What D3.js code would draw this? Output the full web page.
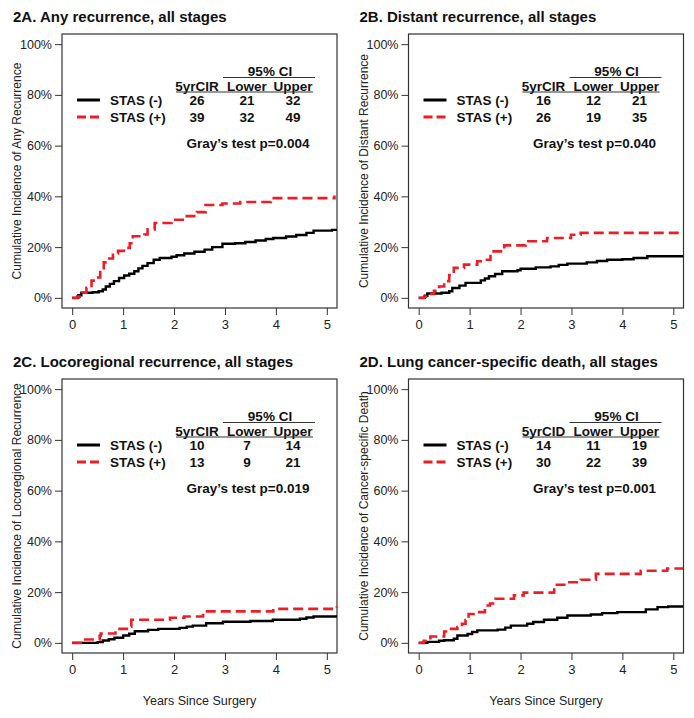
<!DOCTYPE html>
<html><head><meta charset="utf-8">
<script src="https://cdn.jsdelivr.net/npm/d3@7"></script>
<style>body{margin:0;background:#fff}svg{display:block}text{font-family:"Liberation Sans",Arial,sans-serif}</style>
</head><body><svg id="c" width="694" height="718"></svg>
<script>
// ---------- DATA ----------
const panelTitles = ["2A. Any recurrence, all stages","2B. Distant recurrence, all stages","2C. Locoregional recurrence, all stages","2D. Lung cancer-specific death, all stages"];
const yAxisTitles = ["Cumulative Incidence of Any Recurrence","Cumulative Incidence of Distant Recurrence","Cumulative Incidence of Locoregional Recurrence","Cumulative Incidence of Cancer-specific Death"];
const xAxisTitle = "Years Since Surgery";
const xTicks = [0,1,2,3,4,5];
const yTicks = [0,0.2,0.4,0.6,0.8,1.0];
const seriesNames = ["STAS (-)","STAS (+)"];
const estHeaders = ["5yrCIR","5yrCIR","5yrCIR","5yrCID"];
const tableA = [[26,21,32],[39,32,49]];
const tableB = [[16,12,21],[26,19,35]];
const tableC = [[10,7,14],[13,9,21]];
const tableD = [[14,11,19],[30,22,39]];
const pValues = ["0.004","0.040","0.019","0.001"];

// step curves: [years, cumulative incidence]
const anyNeg = [[0,0],[0.12,0.01],[0.18,0.02],[0.4,0.022],[0.52,0.026],[0.6,0.033],[0.66,0.045],[0.74,0.055],[0.82,0.066],[0.92,0.078],[1.02,0.088],[1.12,0.095],[1.22,0.105],[1.3,0.116],[1.38,0.126],[1.48,0.137],[1.6,0.15],[1.72,0.157],[1.95,0.162],[2.05,0.168],[2.2,0.175],[2.4,0.182],[2.6,0.19],[2.75,0.2],[2.95,0.213],[3.2,0.215],[3.4,0.22],[3.6,0.226],[3.8,0.232],[3.95,0.236],[4.2,0.242],[4.4,0.248],[4.6,0.256],[4.74,0.265],[5.1,0.268],[5.2,0.272]];
const anyPos = [[0,0],[0.1,0.005],[0.2,0.02],[0.28,0.04],[0.38,0.068],[0.48,0.08],[0.55,0.11],[0.62,0.14],[0.7,0.155],[0.8,0.175],[0.9,0.185],[1.05,0.197],[1.13,0.215],[1.19,0.243],[1.42,0.25],[1.48,0.27],[1.62,0.295],[1.95,0.308],[2.2,0.322],[2.45,0.338],[2.62,0.366],[2.95,0.372],[3.3,0.378],[3.9,0.393],[5.15,0.403]];
const distNeg = [[0,0],[0.12,0.008],[0.17,0.017],[0.45,0.02],[0.6,0.026],[0.66,0.039],[0.8,0.048],[0.92,0.059],[1.22,0.069],[1.3,0.076],[1.38,0.085],[1.5,0.094],[1.64,0.105],[1.94,0.109],[2.0,0.115],[2.3,0.12],[2.59,0.124],[2.75,0.13],[2.92,0.135],[3.3,0.14],[3.5,0.145],[3.7,0.15],[4.0,0.152],[4.22,0.157],[4.49,0.164],[5.2,0.164]];
const distPos = [[0,0],[0.11,0.005],[0.2,0.015],[0.3,0.028],[0.4,0.045],[0.5,0.066],[0.6,0.09],[0.69,0.118],[0.89,0.131],[1.15,0.144],[1.3,0.15],[1.41,0.183],[1.68,0.207],[2.1,0.223],[2.52,0.236],[2.99,0.249],[3.18,0.256],[5.2,0.256]];
const locoNeg = [[0,0],[0.5,0.003],[0.6,0.009],[0.72,0.014],[0.83,0.02],[1.0,0.029],[1.12,0.036],[1.23,0.046],[1.49,0.051],[1.69,0.055],[2.11,0.059],[2.25,0.064],[2.37,0.068],[2.63,0.077],[2.96,0.083],[3.5,0.086],[3.94,0.091],[4.47,0.095],[4.6,0.1],[4.74,0.104],[5.2,0.108]];
const locoPos = [[0,0],[0.22,0.013],[0.54,0.028],[0.56,0.037],[0.85,0.055],[1.13,0.064],[1.16,0.091],[1.92,0.099],[2.2,0.104],[2.57,0.124],[3.95,0.134],[5.2,0.145]];
const lcsdNeg = [[0,0],[0.17,0.004],[0.4,0.008],[0.5,0.01],[0.69,0.016],[0.76,0.029],[0.96,0.035],[1.05,0.043],[1.15,0.049],[1.55,0.052],[1.7,0.06],[1.81,0.068],[2.13,0.075],[2.25,0.082],[2.46,0.091],[2.72,0.099],[2.92,0.108],[3.38,0.112],[3.6,0.117],[3.9,0.121],[4.46,0.132],[4.69,0.141],[4.9,0.143],[5.2,0.143]];
const lcsdPos = [[0,0],[0.1,0.008],[0.23,0.025],[0.5,0.045],[0.6,0.055],[0.76,0.062],[0.85,0.075],[0.92,0.09],[0.98,0.114],[1.12,0.121],[1.3,0.147],[1.4,0.155],[1.51,0.174],[1.87,0.187],[2.06,0.198],[2.66,0.229],[2.92,0.239],[3.18,0.249],[3.48,0.272],[4.36,0.284],[4.88,0.293],[5.2,0.293]];

const panelSeries = [[anyNeg,anyPos],[distNeg,distPos],[locoNeg,locoPos],[lcsdNeg,lcsdPos]];
const panelTables = [tableA,tableB,tableC,tableD];

// ---------- LAYOUT ----------
const boxes = [{x:62,y:34},{x:408.5,y:34},{x:62,y:379},{x:408.5,y:379}];
const W = 275, H = 274;
const colors = ["#000000","#ee1c25"];
const dashes = [null,"10,5"];
const FONT = '"Liberation Sans",Arial,sans-serif';
const svg = d3.select("#c");
svg.append("rect").attr("width",694).attr("height",718).attr("fill","#fff");

boxes.forEach((b,i)=>{
  const g = svg.append("g").attr("transform",`translate(${b.x},${b.y})`);
  const x = d3.scaleLinear().domain([-0.2,5.2]).range([0,W]);
  const y = d3.scaleLinear().domain([-0.04,1.04]).range([H,0]);
  svg.append("text").attr("x",b.x-49).attr("y",b.y-12).attr("font-weight","bold").attr("font-size",15).attr("fill","#111").text(panelTitles[i]);
  g.append("clipPath").attr("id","cl"+i).append("rect").attr("width",W).attr("height",H);
  const ya = g.append("g").call(d3.axisLeft(y).tickValues(yTicks).tickFormat(d=>Math.round(d*100)+"%").tickSize(7).tickPadding(3));
  ya.select(".domain").remove();
  ya.selectAll("text").attr("font-size",12.5).attr("fill","#222").attr("font-family",FONT);
  ya.selectAll("line").attr("stroke","#333");
  const xa = g.append("g").attr("transform",`translate(0,${H})`).call(d3.axisBottom(x).tickValues(xTicks).tickFormat(d3.format("d")).tickSize(7).tickPadding(5));
  xa.select(".domain").remove();
  xa.selectAll("text").attr("font-size",13).attr("fill","#222").attr("font-family",FONT);
  xa.selectAll("line").attr("stroke","#333");
  g.append("rect").attr("width",W).attr("height",H).attr("fill","none").attr("stroke","#333").attr("stroke-width",1.2);
  g.append("text").attr("transform",`translate(-45,${H/2}) rotate(-90)`).attr("dy","0.35em").attr("text-anchor","middle").attr("font-size",12).attr("fill","#222").text(yAxisTitles[i]);
  if(i>=2) g.append("text").attr("x",W/2).attr("y",H+52).attr("text-anchor","middle").attr("font-size",12.5).attr("fill","#222").text(xAxisTitle);
  const line = d3.line().x(d=>x(d[0])).y(d=>y(d[1])).curve(d3.curveStepAfter);
  panelSeries[i].forEach((s,k)=>{
    g.append("path").attr("clip-path",`url(#cl${i})`).attr("d",line(s)).attr("fill","none")
     .attr("stroke",colors[k]).attr("stroke-width",k?2.6:2.4).attr("stroke-dasharray",dashes[k]);
  });
  const ff = {"font-weight":"bold","font-size":13.5,"fill":"#111"};
  const T = (xx,yy,txt,anchor)=>{const t=g.append("text").attr("x",xx).attr("y",yy).attr("dy","0.35em").attr("text-anchor",anchor||"middle").text(txt);Object.entries(ff).forEach(([k,v])=>t.attr(k,v));return t;};
  const cols = [135,185,231];
  T(208,37,"95% CI");
  g.append("line").attr("x1",161).attr("x2",253).attr("y1",43.5).attr("y2",43.5).attr("stroke","#333").attr("stroke-width",1.1);
  T(cols[0],52,estHeaders[i]);T(cols[1],52,"Lower");T(cols[2],52,"Upper");
  g.append("line").attr("x1",114).attr("x2",251).attr("y1",58).attr("y2",58).attr("stroke","#333").attr("stroke-width",1.1);
  [66,83].forEach((ry,k)=>{
    g.append("line").attr("x1",15).attr("x2",38).attr("y1",ry).attr("y2",ry).attr("stroke",colors[k]).attr("stroke-width",3).attr("stroke-dasharray",k?"9,4":null);
    T(48,ry,seriesNames[k],"start");
    panelTables[i][k].forEach((v,c)=>T(cols[c],ry,v));
  });
  T(186,109,"Gray\u2019s test p="+pValues[i]);
});
</script></body></html>
